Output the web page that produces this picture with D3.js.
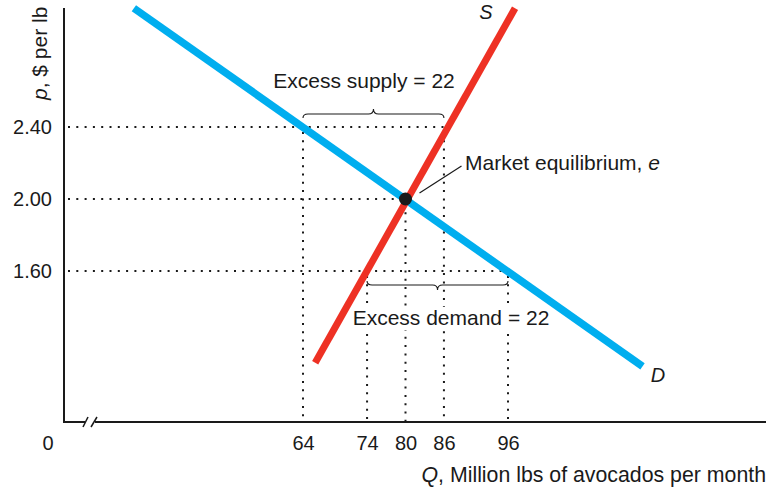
<!DOCTYPE html>
<html><head><meta charset="utf-8">
<script src="https://cdn.jsdelivr.net/npm/d3@7"></script>
<style>
body{margin:0;background:#fff;}
svg{display:block;font-family:"Liberation Sans",Arial,Helvetica,sans-serif;}
</style></head>
<body><svg id="c" width="778" height="487"></svg>
<script>
// Data
const xTicks = [64, 74, 80, 86, 96];
const yTicks = [1.60, 2.00, 2.40];
const yTickLabels = ["1.60", "2.00", "2.40"];
const demandPts = [[37.6, 3.06], [117.0, 1.07]];   // Q = 80 - 40(p-2)
const supplyPts = [[65.9, 1.09], [97.1, 3.06]];
const equilibrium = [80, 2.00];
const excessSupply = {p: 2.40, qD: 64, qS: 86, amount: 22};
const excessDemand = {p: 1.60, qS: 74, qD: 96, amount: 22};

const svg = d3.select("#c");
const x = d3.scaleLinear().domain([64, 96]).range([303, 508]);
const y = d3.scaleLinear().domain([1.6, 2.4]).range([271, 127]);
const X0 = 64, Y0 = 422, XEND = 766, YTOP = 8;
const ink = "#1a1a1a";
const blue = "#00aeef", red = "#ee3124";

// dotted guide lines
const dot = {stroke: ink, "stroke-width": 2, "stroke-dasharray": "2 6.3"};
function dotted(x1, y1, x2, y2) {
  const l = svg.append("line").attr("x1", x1).attr("y1", y1).attr("x2", x2).attr("y2", y2);
  Object.entries(dot).forEach(([k, v]) => l.attr(k, v));
}
// horizontals
dotted(X0 + 4, y(excessSupply.p), x(excessSupply.qS), y(excessSupply.p));
dotted(X0 + 4, y(equilibrium[1]), x(equilibrium[0]), y(equilibrium[1]));
dotted(X0 + 4, y(excessDemand.p), x(excessDemand.qD), y(excessDemand.p));
// verticals
dotted(x(excessSupply.qD), y(excessSupply.p) + 5, x(excessSupply.qD), Y0);
dotted(x(excessSupply.qS), y(excessSupply.p) + 5, x(excessSupply.qS), Y0);
dotted(x(equilibrium[0]), y(equilibrium[1]) + 5, x(equilibrium[0]), Y0);
dotted(x(excessDemand.qS), y(excessDemand.p) + 5, x(excessDemand.qS), Y0);
dotted(x(excessDemand.qD), y(excessDemand.p) + 5, x(excessDemand.qD), Y0);

// excess demand label with white knockout over the guides
const edText = svg.append("text").attr("x", 451).attr("y", 325).attr("text-anchor", "middle").attr("font-size", 21)
  .attr("fill", ink).text(`Excess demand = ${excessDemand.amount}`);
const bb = edText.node().getBBox();
svg.insert("rect", () => edText.node())
  .attr("x", bb.x - 3).attr("y", bb.y + 1).attr("width", bb.width + 6).attr("height", bb.height)
  .attr("fill", "#fff");

// axes lines
svg.append("line").attr("x1", X0).attr("y1", YTOP).attr("x2", X0).attr("y2", Y0 + 1)
  .attr("stroke", ink).attr("stroke-width", 2);
svg.append("line").attr("x1", X0 - 1).attr("y1", Y0).attr("x2", 85).attr("y2", Y0)
  .attr("stroke", ink).attr("stroke-width", 2);
svg.append("line").attr("x1", 95).attr("y1", Y0).attr("x2", XEND).attr("y2", Y0)
  .attr("stroke", ink).attr("stroke-width", 2);
// break marks
[[83, 88], [91, 97]].forEach(([a, b]) => {
  svg.append("line").attr("x1", a).attr("y1", Y0 + 5).attr("x2", b).attr("y2", Y0 - 5)
    .attr("stroke", ink).attr("stroke-width", 1.5);
});

// axis tick labels via d3 axes
const gx = svg.append("g").attr("transform", `translate(0,${Y0})`)
  .call(d3.axisBottom(x).tickValues(xTicks).tickSize(0).tickPadding(14).tickFormat(d3.format("d")));
gx.select(".domain").remove();
gx.selectAll("text").attr("font-size", 20).attr("fill", ink).attr("font-family", null);

const gy = svg.append("g").attr("transform", `translate(${X0},0)`)
  .call(d3.axisLeft(y).tickValues(yTicks).tickSize(0).tickPadding(12)
    .tickFormat((d, i) => yTickLabels[i]));
gy.select(".domain").remove();
gy.selectAll("text").attr("font-size", 20).attr("fill", ink).attr("font-family", null);

svg.append("text").attr("x", 48).attr("y", 450).attr("text-anchor", "middle")
  .attr("font-size", 20).attr("fill", ink).text("0");

// axis titles
const yt = svg.append("text").attr("transform", "translate(47,100) rotate(-90)")
  .attr("font-size", 21).attr("fill", ink);
yt.append("tspan").attr("font-style", "italic").text("p");
yt.append("tspan").text(", $ per lb");
const xt = svg.append("text").attr("x", XEND).attr("y", 482).attr("text-anchor", "end")
  .attr("font-size", 21.3).attr("fill", ink);
xt.append("tspan").attr("font-style", "italic").text("Q");
xt.append("tspan").text(", Million lbs of avocados per month");

// curves
const line = d3.line().x(d => x(d[0])).y(d => y(d[1]));
svg.append("path").attr("d", line(demandPts)).attr("stroke", blue).attr("stroke-width", 7.5).attr("fill", "none");
svg.append("path").attr("d", line(supplyPts)).attr("stroke", red).attr("stroke-width", 7).attr("fill", "none");

// curve labels
svg.append("text").attr("x", 486).attr("y", 19).attr("text-anchor", "middle").attr("font-style", "italic")
  .attr("font-size", 20).attr("fill", ink).text("S");
svg.append("text").attr("x", 658).attr("y", 382).attr("text-anchor", "middle").attr("font-style", "italic")
  .attr("font-size", 20).attr("fill", ink).text("D");

// equilibrium
svg.append("circle").attr("cx", x(equilibrium[0])).attr("cy", y(equilibrium[1])).attr("r", 6.5).attr("fill", ink);
svg.append("line").attr("x1", x(equilibrium[0]) + 14).attr("y1", y(equilibrium[1]) - 6)
  .attr("x2", x(equilibrium[0]) + 56).attr("y2", y(equilibrium[1]) - 33)
  .attr("stroke", ink).attr("stroke-width", 1.2);
const et = svg.append("text").attr("x", 465).attr("y", 170).attr("font-size", 21).attr("fill", ink);
et.append("tspan").text("Market equilibrium, ");
et.append("tspan").attr("font-style", "italic").text("e");

// braces
function brace(x1, x2, yb, dir) { // dir -1 = tip up, +1 = tip down
  const cx = (x1 + x2) / 2, e = -dir * 4, t = dir * 5, r = 5;
  return `M${x1},${yb + e} Q${x1},${yb} ${x1 + r},${yb} L${cx - r},${yb} Q${cx},${yb} ${cx},${yb + t}` +
         ` Q${cx},${yb} ${cx + r},${yb} L${x2 - r},${yb} Q${x2},${yb} ${x2},${yb + e}`;
}
svg.append("path").attr("d", brace(x(excessSupply.qD), x(excessSupply.qS), y(excessSupply.p) - 13, -1))
  .attr("fill", "none").attr("stroke", ink).attr("stroke-width", 1.1);
svg.append("path").attr("d", brace(x(excessDemand.qS), x(excessDemand.qD), y(excessDemand.p) + 14, 1))
  .attr("fill", "none").attr("stroke", ink).attr("stroke-width", 1.1);

svg.append("text").attr("x", 364).attr("y", 88).attr("text-anchor", "middle").attr("font-size", 21)
  .attr("fill", ink).text(`Excess supply = ${excessSupply.amount}`);
</script></body></html>
